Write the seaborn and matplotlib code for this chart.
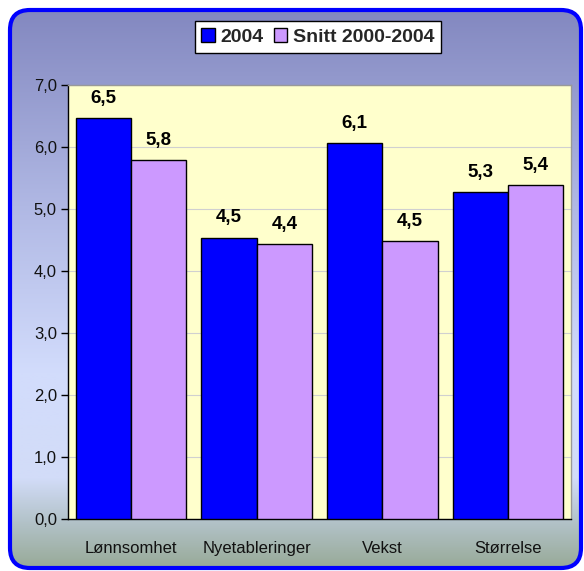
import numpy as np
import pandas as pd
import matplotlib
matplotlib.use("Agg")
import matplotlib.pyplot as plt
from matplotlib.patches import FancyBboxPatch
from matplotlib.colors import LinearSegmentedColormap
import seaborn as sns

# Indicator scores per category
categories = ["Lønnsomhet", "Nyetableringer", "Vekst", "Størrelse"]
series_names = ["2004", "Snitt 2000-2004"]
values_2004 = [6.47, 4.54, 6.07, 5.28]
values_avg = [5.79, 4.44, 4.48, 5.39]
y_ticks = [0, 1, 2, 3, 4, 5, 6, 7]

df = pd.DataFrame({
    "kategori": categories * 2,
    "serie": [series_names[0]] * 4 + [series_names[1]] * 4,
    "verdi": values_2004 + values_avg,
})

sns.set_theme(style="white")
plt.rcParams["font.family"] = ["Liberation Sans", "DejaVu Sans"]

W, H = 584, 571
fig = plt.figure(figsize=(W / 100, H / 100), dpi=100)
fig.patch.set_facecolor("white")

# Rounded panel with a vertical colour gradient
bg = fig.add_axes([0, 0, 1, 1], zorder=-1)
bg.set_xlim(0, W)
bg.set_ylim(H, 0)
bg.axis("off")
grad = LinearSegmentedColormap.from_list(
    "panel",
    [(0.0, "#8388c0"), (0.35, "#b0b8e4"), (0.65, "#d2dcfc"),
     (0.84, "#d2dcf8"), (0.92, "#b2c2c8"), (1.0, "#98aa98")],
)
im = bg.imshow(np.linspace(0, 1, 256).reshape(-1, 1), cmap=grad, aspect="auto",
               extent=(10, 581, 568, 10), interpolation="bilinear")
panel = FancyBboxPatch((10, 10), 571, 558,
                       boxstyle="round,pad=0,rounding_size=20",
                       fc="none", ec="#0000ff", lw=3.0, transform=bg.transData)
bg.add_patch(panel)
im.set_clip_path(panel)

# Plot area
ax = fig.add_axes([68 / W, 1 - 519 / H, (571 - 68) / W, (519 - 85) / H])
ax.set_facecolor("#ffffcc")
sns.barplot(data=df, x="kategori", y="verdi", hue="serie",
            palette=["#0000ff", "#cc99ff"], saturation=1, width=0.88,
            edgecolor="black", linewidth=1, ax=ax, zorder=3)

ax.set_ylim(0, 7)
ax.set_xlim(-0.5, 3.5)
ax.set_yticks(y_ticks)
ax.set_yticklabels([f"{t:.1f}".replace(".", ",") for t in y_ticks], fontsize=12)
ax.set_xlabel("")
ax.set_ylabel("")
ax.tick_params(axis="x", which="major", length=0, pad=16, labelsize=12)
ax.set_xticks(np.arange(-0.5, 4.0, 1.0), minor=True)
ax.tick_params(axis="x", which="minor", length=5, width=1, color="black", direction="out")
ax.tick_params(axis="y", length=5, width=1, color="black", direction="out", pad=3, left=True)
for lab in ax.get_xticklabels() + ax.get_yticklabels():
    lab.set_color("#111111")

ax.yaxis.grid(True, color="#d0d0d0", lw=0.8, zorder=0)
ax.set_axisbelow(True)
for side in ("left", "bottom"):
    ax.spines[side].set_color("black")
    ax.spines[side].set_linewidth(1)
for side in ("top", "right"):
    ax.spines[side].set_color("#999999")
    ax.spines[side].set_linewidth(1)

# Value labels above bars
for cont, vals in zip(ax.containers, [values_2004, values_avg]):
    ax.bar_label(cont, labels=[f"{v:.1f}".replace(".", ",") for v in vals],
                 padding=8, fontsize=13.5, fontweight="bold", color="black")

# Legend above the plot
handles, labels = ax.get_legend_handles_labels()
ax.legend_.remove()
leg = fig.legend(handles, labels, loc="center", bbox_to_anchor=(318 / W, 1 - 37 / H),
                 ncol=2, frameon=True, fancybox=False, edgecolor="black",
                 facecolor="white", framealpha=1,
                 prop={"weight": "bold", "size": 14},
                 handlelength=0.7, handleheight=0.7, handletextpad=0.3,
                 columnspacing=0.5, borderpad=0.35, borderaxespad=0)
leg.get_frame().set_linewidth(1)

fig.savefig("out.png", dpi=100)
